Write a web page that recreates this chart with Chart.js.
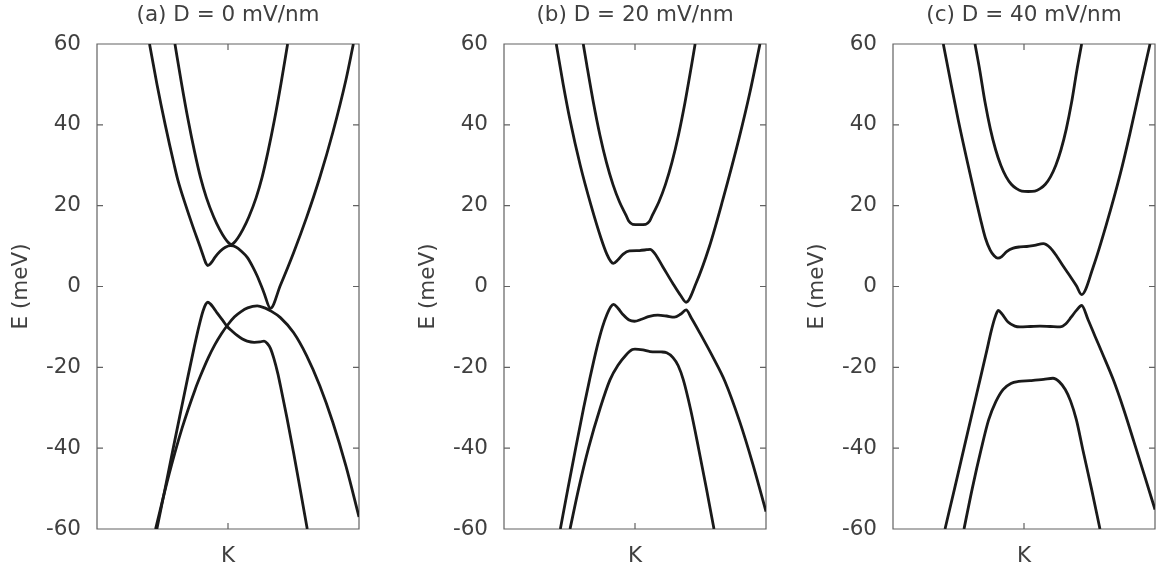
<!DOCTYPE html>
<html>
<head>
<meta charset="utf-8">
<script src="https://cdn.jsdelivr.net/npm/chart.js@4.4.1/dist/chart.umd.min.js"></script>
<style>
  html, body { margin: 0; padding: 0; background: #ffffff; width: 1167px; height: 578px; overflow: hidden; }
  #wrap { position: relative; width: 1167px; height: 578px; }
  canvas.panel { position: absolute; top: 0; }
</style>
</head>
<body>
<div id="wrap"></div>
<script>
// ---------------- DATA ----------------
const panelTitles = ['(a) D = 0 mV/nm', '(b) D = 20 mV/nm', '(c) D = 40 mV/nm'];
const yAxisTitle = 'E (meV)';
const eTicks = [-60, -40, -20, 0, 20, 40, 60];
const kTickValues = [0];
const kTickLabels = ['K'];

// Panel (a) D = 0 : bands as [k, E(meV)], k normalised to the plotted window
const a_c2 = [[-0.405,60],[-0.355,50.3],[-0.305,41.3],[-0.255,33.3],[-0.21,27.0],[-0.165,22.0],[-0.109,17.2],[-0.065,14.2],[-0.025,12.0],[0.005,10.8],[0.025,10.4],[0.045,10.8],[0.075,12.0],[0.115,14.2],[0.159,17.2],[0.215,22.0],[0.26,27.0],[0.305,33.3],[0.355,41.3],[0.405,50.3],[0.455,60]];
const a_c1 = [[-0.599,60],[-0.542,50],[-0.479,40],[-0.41,30],[-0.383,26.4],[-0.322,20],[-0.27,15],[-0.215,10],[-0.183,7],[-0.168,5.7],[-0.155,5.2],[-0.13,5.8],[-0.1,7.2],[-0.06,8.7],[-0.02,9.7],[0.02,10.1],[0.06,9.8],[0.1,8.8],[0.147,7.2],[0.19,4.8],[0.223,2.6],[0.273,-1.4],[0.324,-5.4],[0.4,0.3],[0.5,8.3],[0.6,17.1],[0.7,26.9],[0.8,38.1],[0.9,51.1],[0.957,60]];
const a_v1 = [[-0.543,-60],[-0.48,-50],[-0.42,-40.3],[-0.36,-30.8],[-0.311,-23.1],[-0.26,-15.3],[-0.22,-9.6],[-0.19,-6.0],[-0.17,-4.4],[-0.154,-3.9],[-0.135,-4.3],[-0.11,-5.3],[-0.082,-6.6],[-0.04,-8.4],[-0.006,-9.9],[0.03,-11.0],[0.07,-12.1],[0.11,-13.0],[0.146,-13.5],[0.2,-13.8],[0.245,-13.7],[0.275,-13.5],[0.3,-14.1],[0.324,-15.3],[0.35,-17.8],[0.38,-21.5],[0.4,-24.5],[0.45,-32.5],[0.5,-41],[0.55,-50],[0.605,-60]];
const a_v2 = [[-0.553,-60],[-0.45,-46.5],[-0.35,-35],[-0.25,-25.4],[-0.21,-22.1],[-0.15,-17.6],[-0.1,-14.4],[-0.05,-11.7],[0.0,-9.4],[0.05,-7.5],[0.1,-6.2],[0.15,-5.3],[0.223,-4.8],[0.28,-5.3],[0.324,-6.0],[0.4,-7.7],[0.5,-11.4],[0.6,-17.1],[0.7,-24.5],[0.8,-33.6],[0.9,-44.4],[1.0,-57.0]];

// Panel (b) D = 20
const b_c2 = [[-0.395,60],[-0.368,54.8],[-0.318,45.6],[-0.268,37.5],[-0.218,30.7],[-0.168,25.2],[-0.118,20.9],[-0.068,17.6],[-0.048,16.2],[-0.018,15.4],[0.032,15.3],[0.082,15.4],[0.112,16.2],[0.132,17.6],[0.182,20.9],[0.232,25.2],[0.282,30.7],[0.332,37.5],[0.382,45.6],[0.432,54.8],[0.459,60]];
const b_c1 = [[-0.601,60],[-0.548,50],[-0.496,41.2],[-0.418,30],[-0.335,20],[-0.26,12],[-0.215,8],[-0.185,6.2],[-0.166,5.7],[-0.13,6.6],[-0.09,8.0],[-0.042,8.8],[0.034,8.9],[0.09,9.1],[0.115,9.2],[0.15,8.2],[0.212,4.9],[0.288,0.8],[0.35,-2.3],[0.39,-3.9],[0.466,0.8],[0.568,9.9],[0.669,21.3],[0.796,36.9],[0.877,48],[0.954,60]];
const b_v1 = [[-0.57,-60],[-0.512,-50],[-0.453,-40],[-0.392,-30],[-0.347,-23.1],[-0.29,-15],[-0.248,-10],[-0.215,-7],[-0.185,-5],[-0.164,-4.4],[-0.13,-5.4],[-0.09,-7.0],[-0.045,-8.3],[-0.004,-8.6],[0.05,-8.1],[0.11,-7.4],[0.174,-7.1],[0.24,-7.3],[0.3,-7.6],[0.35,-6.8],[0.39,-5.8],[0.43,-7.8],[0.5,-11.8],[0.6,-17.8],[0.687,-23.5],[0.8,-33.5],[0.9,-44],[1.0,-55.7]];
const b_v2 = [[-0.496,-60],[-0.43,-50],[-0.355,-40],[-0.265,-30],[-0.191,-23.1],[-0.13,-19.5],[-0.07,-17],[-0.02,-15.6],[0.0,-15.5],[0.06,-15.7],[0.115,-16.1],[0.2,-16.2],[0.242,-16.4],[0.29,-17.6],[0.33,-19.6],[0.369,-23.1],[0.425,-30.5],[0.485,-40],[0.545,-50],[0.603,-60]];

// Panel (c) D = 40
const c_c2 = [[-0.374,60],[-0.337,53.4],[-0.297,45.5],[-0.257,39.0],[-0.217,33.9],[-0.177,30.0],[-0.137,27.2],[-0.097,25.3],[-0.057,24.2],[-0.017,23.6],[0.033,23.5],[0.083,23.6],[0.123,24.2],[0.163,25.3],[0.203,27.2],[0.243,30.0],[0.283,33.9],[0.323,39.0],[0.363,45.5],[0.403,53.4],[0.44,60]];
const c_c1 = [[-0.616,60],[-0.556,50],[-0.502,41.2],[-0.43,30.5],[-0.365,21.2],[-0.333,16.8],[-0.295,12],[-0.258,9],[-0.228,7.6],[-0.2,7.0],[-0.17,7.4],[-0.13,8.7],[-0.082,9.5],[-0.03,9.8],[0.021,9.9],[0.08,10.2],[0.147,10.6],[0.2,9.6],[0.25,7.5],[0.3,5.0],[0.351,2.6],[0.4,0.2],[0.44,-2.0],[0.529,4.9],[0.631,15.6],[0.733,27.6],[0.809,37.9],[0.885,49.0],[0.962,60]];
const c_v1 = [[-0.603,-60],[-0.53,-50],[-0.458,-40],[-0.386,-30],[-0.336,-23.1],[-0.285,-16],[-0.25,-11],[-0.225,-8],[-0.205,-6.3],[-0.196,-5.9],[-0.17,-6.7],[-0.122,-8.8],[-0.07,-9.8],[-0.031,-10.0],[0.05,-9.9],[0.122,-9.8],[0.2,-9.9],[0.275,-10.0],[0.32,-9.2],[0.36,-7.6],[0.4,-5.9],[0.44,-4.7],[0.49,-8.3],[0.542,-12.3],[0.6,-16.7],[0.682,-23.1],[0.76,-30.3],[0.84,-38.5],[0.92,-46.8],[1.0,-55.2]];
const c_v2 = [[-0.458,-60],[-0.395,-50],[-0.325,-40],[-0.27,-33],[-0.215,-28.5],[-0.16,-25.5],[-0.1,-24],[-0.04,-23.5],[0.046,-23.3],[0.15,-23.0],[0.221,-22.7],[0.27,-23.6],[0.315,-25.5],[0.355,-28.3],[0.4,-33],[0.45,-40.5],[0.515,-50],[0.58,-60]];

const panelBands = [
  [a_c2, a_c1, a_v1, a_v2],
  [b_c2, b_c1, b_v1, b_v2],
  [c_c2, c_c1, c_v1, c_v2]
];

// ---------------- LAYOUT / STYLE ----------------
const plotLefts = [97, 504, 893];
const plotWidth = 262;
const yAxisWidth = 97;
const rightPad = 12;
const xAxisHeight = 49;
const canvasH = 578;
const FONT = { family: 'DejaVu Sans', size: 21.5, weight: 'normal', lineHeight: 1.2 };
const TEXT = '#404040';
const FRAME = '#626262';
const LINE = '#1a1a1a';

const framePlugin = {
  id: 'frameTicks',
  beforeDatasetsDraw(chart) {
    const { ctx, chartArea } = chart;
    const { left, right, top, bottom } = chartArea;
    const xs = chart.scales.x, ys = chart.scales.y;
    const tl = 6;
    ctx.save();
    ctx.strokeStyle = FRAME;
    ctx.lineWidth = 1.2;
    ctx.beginPath();
    ctx.rect(left, top, right - left, bottom - top);
    ys.ticks.forEach(t => {
      const py = ys.getPixelForValue(t.value);
      ctx.moveTo(left, py); ctx.lineTo(left + tl, py);
      ctx.moveTo(right, py); ctx.lineTo(right - tl, py);
    });
    xs.ticks.forEach(t => {
      const px = xs.getPixelForValue(t.value);
      ctx.moveTo(px, bottom); ctx.lineTo(px, bottom - tl);
      ctx.moveTo(px, top); ctx.lineTo(px, top + tl);
    });
    ctx.stroke();
    ctx.restore();
  }
};

const wrap = document.getElementById('wrap');
panelBands.forEach((bands, i) => {
  const cv = document.createElement('canvas');
  cv.className = 'panel';
  const w = yAxisWidth + plotWidth + rightPad;
  cv.width = w; cv.height = canvasH;
  cv.style.width = w + 'px'; cv.style.height = canvasH + 'px';
  cv.style.left = (plotLefts[i] - yAxisWidth) + 'px';
  wrap.appendChild(cv);

  new Chart(cv.getContext('2d'), {
    type: 'line',
    data: {
      datasets: bands.map(b => ({
        data: b.map(([k, e]) => ({ x: k, y: e })),
        borderColor: LINE,
        borderWidth: 2.8,
        pointRadius: 0,
        pointHoverRadius: 0,
        fill: false,
        cubicInterpolationMode: 'monotone'
      }))
    },
    options: {
      responsive: false,
      animation: false,
      devicePixelRatio: 1,
      events: [],
      layout: { padding: { left: 0, right: rightPad, top: 0, bottom: 0 } },
      plugins: {
        legend: { display: false },
        tooltip: { enabled: false },
        title: {
          display: true,
          text: panelTitles[i],
          fullSize: false,
          color: TEXT,
          font: FONT,
          padding: { top: 3, bottom: 15.2 }
        }
      },
      scales: {
        x: {
          type: 'linear',
          min: -1, max: 1,
          grid: { display: false, drawTicks: false },
          border: { display: false },
          afterBuildTicks: s => { s.ticks = kTickValues.map(v => ({ value: v })); },
          afterFit: s => { s.height = xAxisHeight; },
          ticks: {
            color: TEXT, font: FONT, padding: 15, maxRotation: 0, autoSkip: false,
            callback: (v, idx) => kTickLabels[idx]
          }
        },
        y: {
          type: 'linear',
          min: -60, max: 60,
          grid: { display: false, drawTicks: false },
          border: { display: false },
          afterBuildTicks: s => { s.ticks = eTicks.map(v => ({ value: v })); },
          afterFit: s => { s.width = yAxisWidth; },
          ticks: { color: TEXT, font: FONT, padding: 16, callback: v => String(v) },
          title: { display: true, text: yAxisTitle, color: TEXT, font: FONT, padding: { top: 9, bottom: 0 } }
        }
      }
    },
    plugins: [framePlugin]
  });
});
</script>
</body>
</html>
